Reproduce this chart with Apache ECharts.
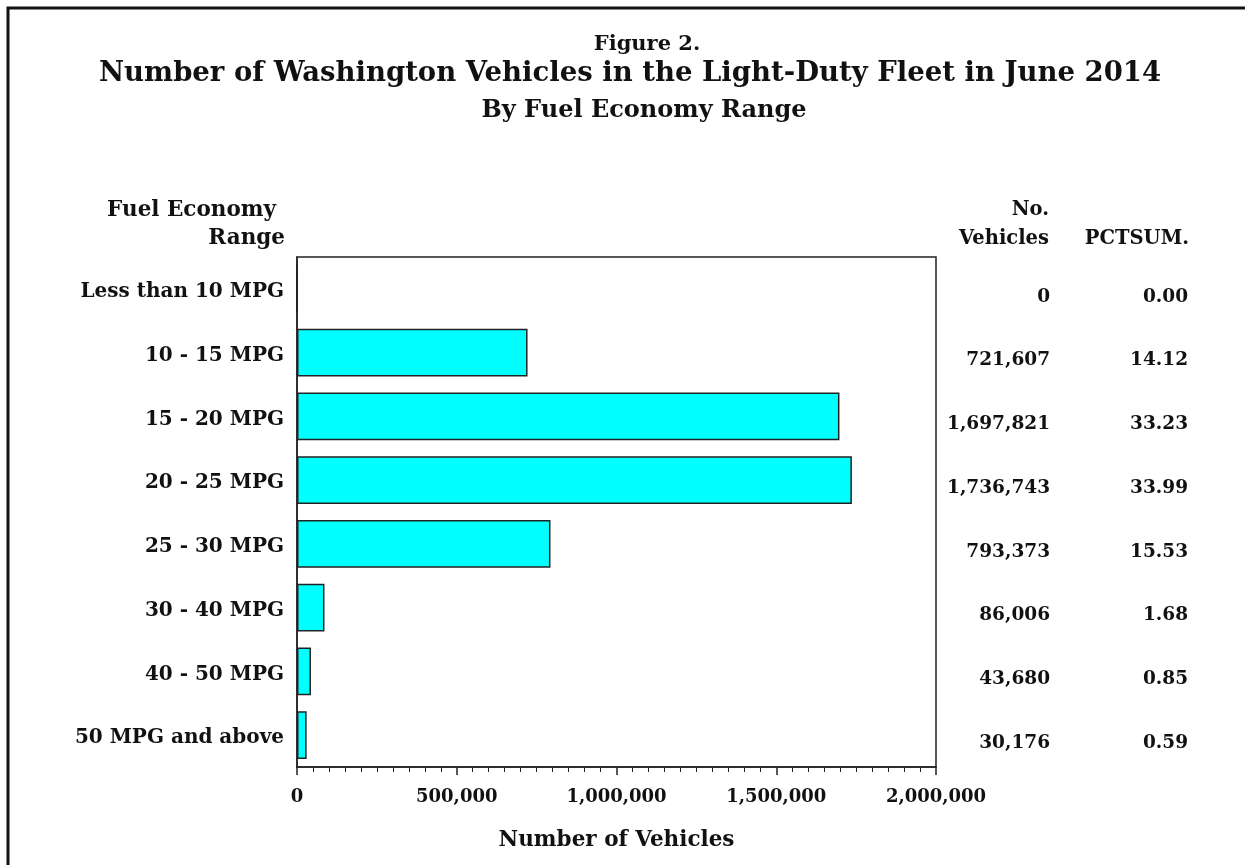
<!DOCTYPE html>
<html>
<head>
<meta charset="utf-8">
<script src="https://cdn.jsdelivr.net/npm/echarts@6/dist/echarts.min.js"></script>
<style>
  html, body { margin: 0; padding: 0; background: #fff; }
  #chart { width: 1245px; height: 865px; }
</style>
</head>
<body>
<div id="chart"></div>
<script>
// categories and values
const ranges = ['Less than 10 MPG', '10 - 15 MPG', '15 - 20 MPG', '20 - 25 MPG',
  '25 - 30 MPG', '30 - 40 MPG', '40 - 50 MPG', '50 MPG and above'];
const vehicles = [0, 721607, 1697821, 1736743, 793373, 86006, 43680, 30176];
const pctSum = ['0.00', '14.12', '33.23', '33.99', '15.53', '1.68', '0.85', '0.59'];
const xTicks = [0, 500000, 1000000, 1500000, 2000000];

const FONT = '"DejaVu Serif", "Liberation Serif", serif';
const fmt = v => v.toLocaleString('en-US');

const chart = echarts.init(document.getElementById('chart'));

const labelStyle = {
    fontFamily: FONT,
    fontWeight: 'bold',
    color: '#111'
};

// the two table columns on the right sit a little below the bar centres
const tableLabel = {
    ...labelStyle,
    fontSize: 18.5,
    margin: 0,
    align: 'right',
    verticalAlign: 'top',
    lineHeight: 16
};

chart.setOption({
    backgroundColor: '#fff',
    animation: false,
    title: [
        {text: 'Figure 2.', left: 642, textAlign: 'center', top: 29,
            textStyle: {...labelStyle, fontSize: 21}},
        {text: 'Number of Washington Vehicles in the Light-Duty Fleet in June 2014', left: 625, textAlign: 'center', top: 55,
            textStyle: {...labelStyle, fontSize: 27.5}},
        {text: 'By Fuel Economy Range', left: 639, textAlign: 'center', top: 94,
            textStyle: {...labelStyle, fontSize: 24}}
    ],
    grid: {
        left: 297,
        right: 309,
        top: 257,
        bottom: 98,
        show: true,
        borderColor: '#222',
        borderWidth: 1.5
    },
    xAxis: {
        type: 'value',
        min: xTicks[0],
        max: xTicks[xTicks.length - 1],
        interval: xTicks[1] - xTicks[0],
        name: 'Number of Vehicles',
        nameLocation: 'middle',
        nameGap: 62,
        nameTextStyle: {...labelStyle, fontSize: 21.5},
        axisLine: {show: true, lineStyle: {color: '#222', width: 1.5}},
        axisTick: {show: true, length: 8, lineStyle: {color: '#222', width: 1.5}},
        minorTick: {show: true, splitNumber: 10, length: 5, lineStyle: {color: '#222'}},
        splitLine: {show: false},
        axisLabel: {
            ...labelStyle,
            fontSize: 18,
            margin: 21,
            formatter: v => fmt(v)
        }
    },
    yAxis: [
        {
            type: 'category',
            data: ranges,
            inverse: true,
            axisLine: {show: true, lineStyle: {color: '#222', width: 1.5}},
            axisTick: {show: false},
            axisLabel: {...labelStyle, fontSize: 20, margin: 13, verticalAlign: 'top', lineHeight: 6}
        },
        {
            type: 'category',
            data: vehicles.map(fmt),
            inverse: true,
            position: 'right',
            offset: 114,
            axisLine: {show: false},
            axisTick: {show: false},
            axisLabel: tableLabel
        },
        {
            type: 'category',
            data: pctSum,
            inverse: true,
            position: 'right',
            offset: 252,
            axisLine: {show: false},
            axisTick: {show: false},
            axisLabel: tableLabel
        }
    ],
    series: [
        {
            type: 'bar',
            data: vehicles,
            barCategoryGap: '25%',
            itemStyle: {
                color: '#00ffff',
                borderColor: '#222',
                borderWidth: 1.5
            }
        }
    ],
    graphic: [
        {type: 'rect', shape: {x: 8, y: 8, width: 1250, height: 880},
            style: {fill: 'none', stroke: '#111', lineWidth: 3}, silent: true},
        {type: 'text', right: 1245 - 276, top: 199,
            style: {text: 'Fuel Economy', font: 'bold 21.5px ' + FONT, fill: '#111'}},
        {type: 'text', right: 1245 - 285, top: 227,
            style: {text: 'Range', font: 'bold 21.5px ' + FONT, fill: '#111'}},
        {type: 'text', right: 1245 - 1049, top: 200,
            style: {text: 'No.', font: 'bold 19.5px ' + FONT, fill: '#111'}},
        {type: 'text', right: 1245 - 1049, top: 229,
            style: {text: 'Vehicles', font: 'bold 19.5px ' + FONT, fill: '#111'}},
        {type: 'text', right: 1245 - 1189, top: 229,
            style: {text: 'PCTSUM.', font: 'bold 19.5px ' + FONT, fill: '#111'}}
    ]
});
</script>
</body>
</html>
